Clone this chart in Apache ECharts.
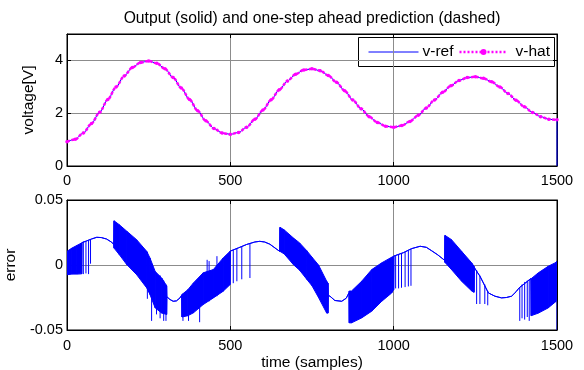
<!DOCTYPE html>
<html>
<head>
<meta charset="utf-8">
<script src="https://cdn.jsdelivr.net/npm/echarts@6/dist/echarts.min.js"></script>
<style>
  html, body { margin: 0; padding: 0; background: #fff; }
  #main { width: 584px; height: 370px; }
</style>
</head>
<body>
<div id="main"></div>
<script>
// top plot: output and prediction, read every 25 samples
var vSamples = [0, 25, 50, 75, 100, 125, 150, 175, 200, 225, 250, 275, 300, 325, 350, 375, 400, 425, 450, 475,
    500, 525, 550, 575, 600, 625, 650, 675, 700, 725, 750, 775, 800, 825, 850, 875, 900, 925, 950, 975,
    1000, 1025, 1050, 1075, 1100, 1125, 1150, 1175, 1200, 1225, 1250, 1275, 1300, 1325, 1350, 1375, 1400, 1425, 1450, 1475, 1500];
var vRef = [0.92, 1.01, 1.25, 1.61, 2.04, 2.52, 2.99, 3.41, 3.73, 3.92, 3.98, 3.89, 3.68, 3.35, 2.95, 2.52, 2.09, 1.71, 1.42, 1.25,
    1.20, 1.27, 1.47, 1.77, 2.12, 2.51, 2.89, 3.22, 3.48, 3.64, 3.68, 3.61, 3.43, 3.17, 2.85, 2.50, 2.17, 1.87, 1.65, 1.51,
    1.47, 1.53, 1.69, 1.92, 2.20, 2.50, 2.79, 3.04, 3.24, 3.35, 3.38, 3.32, 3.19, 2.99, 2.75, 2.49, 2.24, 2.03, 1.87, 1.77, 1.75];
var vRefEnd = 0; // last sample of v-ref drops to zero
var vHat = [0.92, 1.01, 1.25, 1.61, 2.04, 2.52, 2.99, 3.41, 3.73, 3.92, 3.98, 3.89, 3.68, 3.35, 2.95, 2.52, 2.09, 1.71, 1.42, 1.25,
    1.20, 1.27, 1.47, 1.77, 2.12, 2.51, 2.89, 3.22, 3.48, 3.64, 3.68, 3.61, 3.43, 3.17, 2.85, 2.50, 2.17, 1.87, 1.65, 1.51,
    1.47, 1.53, 1.69, 1.92, 2.20, 2.50, 2.79, 3.04, 3.24, 3.35, 3.38, 3.32, 3.19, 2.99, 2.75, 2.49, 2.24, 2.03, 1.87, 1.77, 1.75];

// bottom plot: error envelope (upper / lower edge of the chattering band, equal where the curve is smooth)
var errSamples = [0, 15, 30, 45, 46, 60, 75, 91, 105, 121, 135, 143,
    144, 160, 183, 213, 244, 254, 270, 290, 305, 306, 315, 325, 335, 346, 351,
    352, 370, 387, 417, 448, 478, 499, 500, 525, 550, 575, 590, 605, 621, 640, 651,
    652, 665, 693, 712, 734, 750, 770, 795, 799, 800, 805, 820, 841, 855, 863,
    864, 871, 902, 933, 963, 994, 1000, 1001, 1030, 1055, 1081, 1100, 1116, 1135, 1156,
    1157, 1177, 1208, 1239, 1246, 1247, 1265, 1290, 1310, 1330, 1345, 1361, 1375, 1384, 1420,
    1421, 1443, 1473, 1497, 1500];
var errHi = [0.0105, 0.013, 0.015, 0.017, 0.0172, 0.0185, 0.0200, 0.0213, 0.0211, 0.0200, 0.0178, 0.0160,
    0.034, 0.031, 0.026, 0.0195, 0.0105, 0.0054, -0.005, -0.010, -0.016, -0.0245, -0.0265, -0.0279, -0.0276, -0.0253, -0.0232,
    -0.0227, -0.019, -0.0138, -0.006, -0.0035, 0.0054, 0.0105, 0.0107, 0.0132, 0.0158, 0.0177, 0.0182, 0.0177, 0.0160, 0.0125, 0.0105,
    0.029, 0.027, 0.0208, 0.017, 0.011, 0.006, 0.000, -0.0125, -0.014, -0.0235, -0.0240, -0.0273, -0.0279, -0.0255, -0.0215,
    -0.020, -0.020, -0.0125, -0.0035, 0.0016, 0.006, 0.0068, 0.0069, 0.0095, 0.0126, 0.0144, 0.0136, 0.0110, 0.0078, 0.0036,
    0.0228, 0.0195, 0.0105, 0.0016, -0.001, -0.002, -0.009, -0.0215, -0.0240, -0.0253, -0.0250, -0.0240, -0.0205, -0.0176, -0.0105,
    -0.0105, -0.006, -0.001, 0.002, 0.003];
var errLo = [-0.0075, -0.007, -0.007, -0.0068, 0.0172, 0.0185, 0.0200, 0.0213, 0.0211, 0.0200, 0.0178, 0.0160,
    0.013, 0.008, 0.0003, -0.0074, -0.0176, -0.0227, -0.033, -0.037, -0.038, -0.0245, -0.0265, -0.0279, -0.0276, -0.0253, -0.0232,
    -0.040, -0.039, -0.0368, -0.0304, -0.0253, -0.0202, -0.0151, 0.0107, 0.0132, 0.0158, 0.0177, 0.0182, 0.0177, 0.0160, 0.0125, 0.0105,
    0.0105, 0.0085, 0.0003, -0.004, -0.011, -0.016, -0.025, -0.037, -0.037, -0.0235, -0.0240, -0.0273, -0.0279, -0.0255, -0.0215,
    -0.0445, -0.0445, -0.0407, -0.0355, -0.028, -0.0215, -0.019, 0.0069, 0.0095, 0.0126, 0.0144, 0.0136, 0.0110, 0.0078, 0.0036,
    0.002, -0.0035, -0.0125, -0.020, -0.021, -0.002, -0.009, -0.0215, -0.0240, -0.0253, -0.0250, -0.0240, -0.0205, -0.0176, -0.0105,
    -0.039, -0.037, -0.033, -0.028, 0.003];

// single spikes outside the dense band
var spikeSamples = [50, 58, 66, 72, 246, 259, 274, 285, 296, 303, 355, 372, 406, 429, 435, 459,
    509, 520, 535, 560, 1006, 1015, 1024, 1035, 1045, 1053, 1254, 1264, 1279, 1288,
    1386, 1393, 1401, 1409, 1415, 1500];
var spikeTop = [0.0180, 0.0184, 0.019, 0.0195, 0.010, 0.000, -0.006, -0.008, -0.012, -0.015, -0.022, -0.019, -0.010, 0.004, 0.003, 0.0068,
    0.0115, 0.0128, 0.0145, 0.0168, 0.0074, 0.0082, 0.0090, 0.0100, 0.0112, 0.0123, -0.004, -0.008, -0.015, -0.020,
    -0.017, -0.015, -0.013, -0.012, -0.011, 0.003];
var spikeBottom = [-0.007, -0.0065, -0.007, 0.001, -0.026, -0.043, -0.038, -0.041, -0.043, -0.043, -0.043, -0.043, -0.044, -0.028, -0.028, -0.024,
    -0.014, -0.0125, -0.011, -0.010, -0.018, -0.018, -0.0175, -0.017, -0.0165, -0.016, -0.030, -0.030, -0.030, -0.031,
    -0.043, -0.041, -0.042, -0.040, -0.043, -0.050];

var xTicks = [0, 500, 1000, 1500];
var legendNames = ['v-ref', 'v-hat'];

var BLUE = '#0000ff';
var MAGENTA = '#ff00ff';
var FONT = 'Liberation Sans';
var TICK_SIZE = 14.5;
var LABEL_SIZE = 15.5;

function pairs(xs, ys) {
    var out = [];
    for (var i = 0; i < ys.length; i++) {
        out.push([xs[i], ys[i]]);
    }
    return out;
}

var refData = pairs(vSamples, vRef);
refData.push([vSamples[vSamples.length - 1], vRefEnd]);
var hatData = pairs(vSamples, vHat);

var bandData = [];
for (var i = 0; i < errSamples.length; i++) {
    bandData.push([errSamples[i], errHi[i], errLo[i]]);
}
var spikeData = [];
for (var j = 0; j < spikeSamples.length; j++) {
    spikeData.push([spikeSamples[j], spikeTop[j], spikeBottom[j]]);
}

function plainNumber(v) {
    return String(v);
}

function xAxisOf(gridIndex, bottom) {
    return {
        type: 'value', gridIndex: gridIndex, position: bottom ? 'bottom' : 'top',
        min: xTicks[0], max: xTicks[xTicks.length - 1], interval: 500,
        axisLine: { show: true, onZero: false, lineStyle: { color: '#000', width: 1 } },
        axisTick: { show: true, inside: true, length: 4, lineStyle: { color: '#000' } },
        axisLabel: { show: bottom, color: '#000', fontFamily: FONT, fontSize: TICK_SIZE, margin: 7, formatter: plainNumber },
        splitLine: { show: bottom, lineStyle: { color: '#8c8c8c', width: 1 } }
    };
}

function yAxisOf(gridIndex, left, min, max, interval) {
    return {
        type: 'value', gridIndex: gridIndex, position: left ? 'left' : 'right',
        min: min, max: max, interval: interval,
        axisLine: { show: true, onZero: false, lineStyle: { color: '#000', width: 1 } },
        axisTick: { show: true, inside: true, length: 4, lineStyle: { color: '#000' } },
        axisLabel: { show: left, color: '#000', fontFamily: FONT, fontSize: TICK_SIZE, margin: 4, showMaxLabel: interval === 2 ? false : null },
        splitLine: { show: left, lineStyle: { color: '#8c8c8c', width: 1 } }
    };
}

var xA = [xAxisOf(0, true), xAxisOf(0, false), xAxisOf(1, true), xAxisOf(1, false)];
xA[2].axisLabel.margin = 8;
xA[2].name = 'time (samples)';
xA[2].nameLocation = 'middle';
xA[2].nameGap = 25;
xA[2].nameTextStyle = { color: '#000', fontFamily: FONT, fontSize: LABEL_SIZE };

var yA = [yAxisOf(0, true, 0, 5, 2), yAxisOf(0, false, 0, 5, 2),
    yAxisOf(1, true, -0.05, 0.05, 0.05), yAxisOf(1, false, -0.05, 0.05, 0.05)];
yA[0].name = 'voltage[V]';
yA[0].nameLocation = 'middle';
yA[0].nameGap = 30;
yA[0].nameTextStyle = { color: '#000', fontFamily: FONT, fontSize: LABEL_SIZE };
yA[2].name = 'error';
yA[2].nameLocation = 'middle';
yA[2].nameGap = 39;
yA[2].nameTextStyle = { color: '#000', fontFamily: FONT, fontSize: LABEL_SIZE };

// legend box drawn by hand (MATLAB style)
var legendGraphic = {
    type: 'group', left: 358, top: 37, z: 100,
    children: [
        { type: 'rect', shape: { x: 0, y: 0, width: 196, height: 29 }, style: { fill: '#fff', stroke: '#000', lineWidth: 1 } },
        { type: 'line', shape: { x1: 10, y1: 14.5, x2: 60, y2: 14.5 }, style: { stroke: BLUE, lineWidth: 1 } },
        { type: 'text', x: 64, y: 14.5, style: { text: legendNames[0], fill: '#000', font: LABEL_SIZE + 'px "' + FONT + '"', verticalAlign: 'middle' } },
        { type: 'line', shape: { x1: 101, y1: 14.5, x2: 147, y2: 14.5 }, style: { stroke: MAGENTA, lineWidth: 2.5, lineDash: [2, 2] } },
        { type: 'circle', shape: { cx: 125, cy: 14.5, r: 3 }, style: { fill: MAGENTA } },
        { type: 'text', x: 157, y: 14.5, style: { text: legendNames[1], fill: '#000', font: LABEL_SIZE + 'px "' + FONT + '"', verticalAlign: 'middle' } }
    ]
};

var myChart = echarts.init(document.getElementById('main'), null, { renderer: 'canvas' });
var option = {
    animation: false,
    backgroundColor: '#fff',
    title: {
        text: 'Output (solid) and one-step ahead prediction (dashed)',
        left: 312, top: 11, textAlign: 'center', padding: 0,
        textStyle: { color: '#000', fontFamily: FONT, fontSize: 15.7, fontWeight: 'normal' }
    },
    graphic: [legendGraphic],
    grid: [
        { left: 67, top: 34, width: 490, height: 132, outerBoundsMode: 'none', containLabel: false,
          show: true, borderColor: '#000', borderWidth: 1, backgroundColor: '#fff' },
        { left: 67, top: 200, width: 490, height: 130, outerBoundsMode: 'none', containLabel: false,
          show: true, borderColor: '#000', borderWidth: 1, backgroundColor: '#fff' }
    ],
    xAxis: xA,
    yAxis: yA,
    series: [
        {
            name: legendNames[0], type: 'line', xAxisIndex: 0, yAxisIndex: 0,
            data: refData, showSymbol: false, symbol: 'none',
            smooth: 0.3, smoothMonotone: 'x',
            lineStyle: { color: BLUE, width: 1 }, itemStyle: { color: BLUE }, z: 2
        },
        {
            name: legendNames[1], type: 'line', xAxisIndex: 0, yAxisIndex: 0,
            data: hatData, showSymbol: true, symbol: 'circle', symbolSize: 3.5,
            smooth: 0.3, smoothMonotone: 'x',
            lineStyle: { color: MAGENTA, width: 2.5, type: [3, 1.5] }, itemStyle: { color: MAGENTA }, z: 3
        },
        {
            name: 'error', type: 'custom', xAxisIndex: 2, yAxisIndex: 2,
            data: bandData, encode: { x: 0, y: [1, 2] }, clip: true,
            renderItem: function (params, api) {
                var k = params.dataIndex;
                if (k >= bandData.length - 1) return null;
                var a = bandData[k], b = bandData[k + 1];
                var p1 = api.coord([a[0], a[1]]);
                var p2 = api.coord([b[0], b[1]]);
                var p3 = api.coord([b[0], b[2]]);
                var p4 = api.coord([a[0], a[2]]);
                return {
                    type: 'polygon',
                    shape: { points: [p1, p2, p3, p4] },
                    style: { fill: BLUE, stroke: BLUE, lineWidth: 1 }
                };
            }
        },
        {
            name: 'spikes', type: 'custom', xAxisIndex: 2, yAxisIndex: 2,
            data: spikeData, encode: { x: 0, y: [1, 2] }, clip: true,
            renderItem: function (params, api) {
                var p1 = api.coord([api.value(0), api.value(1)]);
                var p2 = api.coord([api.value(0), api.value(2)]);
                return {
                    type: 'line',
                    shape: { x1: p1[0], y1: p1[1], x2: p2[0], y2: p2[1] },
                    style: { stroke: BLUE, lineWidth: 1 }
                };
            }
        }
    ]
};
myChart.setOption(option);
</script>
</body>
</html>
